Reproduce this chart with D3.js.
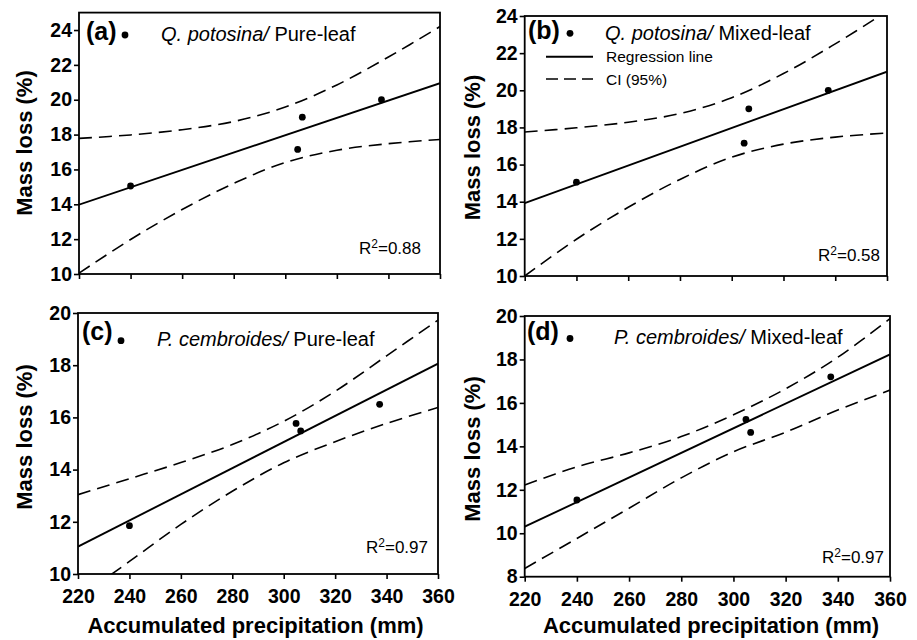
<!DOCTYPE html>
<html>
<head>
<meta charset="utf-8">
<script src="https://cdn.jsdelivr.net/npm/d3@7"></script>
<style>
  body { margin: 0; background: #fff; }
  svg { display: block; font-family: "Liberation Sans", Arial, sans-serif; }
</style>
</head>
<body>
<script>
var width = 917;
var height = 640;

// observed points (accumulated precipitation, mm)
var precip = [240, 304.8, 306.6, 337.3];
var lossA = [15.05, 17.15, 19.0, 20.0];
var lossB = [15.05, 17.15, 19.0, 20.0];
var lossC = [11.85, 15.77, 15.48, 16.5];
var lossD = [11.53, 15.24, 14.64, 17.2];

// regression line ends
var fitX = [220, 360];
var fitA = [13.98, 20.95];
var fitB = [13.92, 21.0];
var fitC = [11.05, 18.06];
var fitD = [10.3, 18.23];

// 95% confidence bands
var ciX = [220, 240, 260, 280, 300, 320, 340, 360];
var upperA = [17.78, 17.98, 18.28, 18.75, 19.58, 20.85, 22.45, 24.2];
var lowerA = [10.05, 11.98, 13.7, 15.2, 16.4, 17.1, 17.48, 17.72];
var upperB = [17.75, 17.98, 18.28, 18.75, 19.6, 20.9, 22.5, 24.25];
var lowerB = [10.0, 11.98, 13.7, 15.2, 16.4, 17.1, 17.48, 17.7];
var upperC = [13.04, 13.65, 14.27, 14.96, 15.85, 17.0, 18.36, 19.73];
var lowerC = [9.08, 10.48, 11.9, 13.17, 14.26, 15.07, 15.77, 16.38];
var upperD = [12.22, 13.06, 13.7, 14.45, 15.45, 16.65, 18.1, 19.88];
var lowerD = [8.38, 9.76, 11.15, 12.55, 13.75, 14.65, 15.67, 16.59];

var xTicks = [220, 240, 260, 280, 300, 320, 340, 360];
var yTicksA = [10, 12, 14, 16, 18, 20, 22, 24];
var yTicksB = [10, 12, 14, 16, 18, 20, 22, 24];
var yTicksC = [10, 12, 14, 16, 18, 20];
var yTicksD = [8, 10, 12, 14, 16, 18, 20];

var letters = ["(a)", "(b)", "(c)", "(d)"];
var species = ["Q. potosina/", "Q. potosina/", "P. cembroides/", "P. cembroides/"];
var leafType = ["Pure-leaf", "Mixed-leaf", "Pure-leaf", "Mixed-leaf"];
var r2 = ["0.88", "0.58", "0.97", "0.97"];

var panels = [
  {x0: 79, x1: 440, y0: 274, y1: 12.6, yDomain: [10, 25], yTicks: yTicksA, loss: lossA, fit: fitA, upper: upperA, lower: lowerA,
   showX: false, letter: [86, 40], dot: [125, 35], title: [161, 41], r2: [421, 254], yTitle: [32, 143]},
  {x0: 524.7, x1: 887, y0: 276, y1: 16, yDomain: [10, 24], yTicks: yTicksB, loss: lossB, fit: fitB, upper: upperB, lower: lowerB,
   showX: false, letter: [528, 38.5], dot: [570, 33.3], title: [605, 40], r2: [880, 260.5], yTitle: [480, 147.5], legend: true},
  {x0: 78, x1: 438, y0: 574, y1: 313, yDomain: [10, 20], yTicks: yTicksC, loss: lossC, fit: fitC, upper: upperC, lower: lowerC,
   showX: true, letter: [82, 340], dot: [121, 340.7], title: [157, 346], r2: [428, 553], yTitle: [32, 437], xTitle: [255.5, 633]},
  {x0: 524.7, x1: 890, y0: 576.7, y1: 316, yDomain: [8, 20], yTicks: yTicksD, loss: lossD, fit: fitD, upper: upperD, lower: lowerD,
   showX: true, letter: [527, 340], dot: [570, 338.5], title: [614, 344], r2: [884, 563], yTitle: [480, 449], xTitle: [711, 633]}
];

var svg = d3.select("body")
  .append("svg")
  .attr("width", width)
  .attr("height", height);

svg.append("rect").attr("width", width).attr("height", height).attr("fill", "#fff");

var defs = svg.append("defs");

panels.forEach(function(p, i) {
  var xScale = d3.scaleLinear().domain([220, 360]).range([p.x0, p.x1]);
  var yScale = d3.scaleLinear().domain(p.yDomain).range([p.y0, p.y1]);
  var g = svg.append("g");

  defs.append("clipPath").attr("id", "clip" + i)
    .append("rect")
      .attr("x", p.x0).attr("y", p.y1)
      .attr("width", p.x1 - p.x0).attr("height", p.y0 - p.y1);

  // axes
  var xAxis = g.append("g")
    .attr("transform", `translate(0,${p.y0})`)
    .call(d3.axisBottom(xScale).tickValues(xTicks).tickSize(5).tickSizeOuter(0).tickPadding(10)
      .tickFormat(p.showX ? d3.format("d") : function() { return ""; }));
  var yAxis = g.append("g")
    .attr("transform", `translate(${p.x0},0)`)
    .call(d3.axisLeft(yScale).tickValues(p.yTicks).tickSize(5).tickSizeOuter(0).tickPadding(2));

  [xAxis, yAxis].forEach(function(a) {
    a.attr("font-family", null).attr("font-size", 19.5).attr("font-weight", "bold");
    a.selectAll("text").attr("fill", "#000");
    a.selectAll("line").attr("stroke", "#000").attr("stroke-width", 1.6);
    a.select(".domain").remove();
  });

  g.append("rect")
    .attr("x", p.x0).attr("y", p.y1)
    .attr("width", p.x1 - p.x0).attr("height", p.y0 - p.y1)
    .attr("fill", "none").attr("stroke", "#000").attr("stroke-width", 1.8);

  var plot = g.append("g").attr("clip-path", "url(#clip" + i + ")");

  var line = d3.line()
    .x(function(d) { return xScale(d[0]); })
    .y(function(d) { return yScale(d[1]); });
  var curve = d3.line()
    .curve(d3.curveCatmullRom)
    .x(function(d) { return xScale(d[0]); })
    .y(function(d) { return yScale(d[1]); });

  [p.upper, p.lower].forEach(function(band) {
    plot.append("path")
      .attr("d", curve(d3.zip(ciX, band)))
      .attr("fill", "none").attr("stroke", "#000")
      .attr("stroke-width", 1.6).attr("stroke-dasharray", "13,7");
  });

  plot.append("path")
    .attr("d", line(d3.zip(fitX, p.fit)))
    .attr("fill", "none").attr("stroke", "#000").attr("stroke-width", 1.9);

  plot.selectAll("circle")
    .data(d3.zip(precip, p.loss))
    .enter()
    .append("circle")
      .attr("cx", function(d) { return xScale(d[0]); })
      .attr("cy", function(d) { return yScale(d[1]); })
      .attr("r", 3.4)
      .attr("fill", "#000");

  // panel label + legend
  g.append("text")
    .attr("x", p.letter[0]).attr("y", p.letter[1])
    .attr("font-size", 25).attr("font-weight", "bold")
    .text(letters[i]);
  g.append("circle")
    .attr("cx", p.dot[0]).attr("cy", p.dot[1]).attr("r", 3.4).attr("fill", "#000");
  var t = g.append("text")
    .attr("x", p.title[0]).attr("y", p.title[1])
    .attr("font-size", 20);
  t.append("tspan").attr("font-style", "italic").text(species[i]);
  t.append("tspan").text(" " + leafType[i]);

  if (p.legend) {
    g.append("line")
      .attr("x1", 546).attr("x2", 593).attr("y1", 56.7).attr("y2", 56.7)
      .attr("stroke", "#000").attr("stroke-width", 1.9);
    g.append("text").attr("x", 606).attr("y", 62).attr("font-size", 15.5).text("Regression line");
    g.append("line")
      .attr("x1", 546).attr("x2", 593).attr("y1", 79).attr("y2", 79)
      .attr("stroke", "#000").attr("stroke-width", 1.6).attr("stroke-dasharray", "12,6");
    g.append("text").attr("x", 606).attr("y", 84.5).attr("font-size", 15.5).text("CI (95%)");
  }

  var r = g.append("text")
    .attr("x", p.r2[0]).attr("y", p.r2[1])
    .attr("font-size", 17).attr("text-anchor", "end");
  r.append("tspan").text("R");
  r.append("tspan").attr("font-size", 12).attr("dy", -6).text("2");
  r.append("tspan").attr("dy", 6).text("=" + r2[i]);

  g.append("text")
    .attr("transform", `translate(${p.yTitle[0]},${p.yTitle[1]}) rotate(-90)`)
    .attr("text-anchor", "middle")
    .attr("font-size", 22).attr("font-weight", "bold")
    .text("Mass loss (%)");

  if (p.xTitle) {
    g.append("text")
      .attr("x", p.xTitle[0]).attr("y", p.xTitle[1])
      .attr("text-anchor", "middle")
      .attr("font-size", 22).attr("font-weight", "bold")
      .text("Accumulated precipitation (mm)");
  }
});
</script>
</body>
</html>
